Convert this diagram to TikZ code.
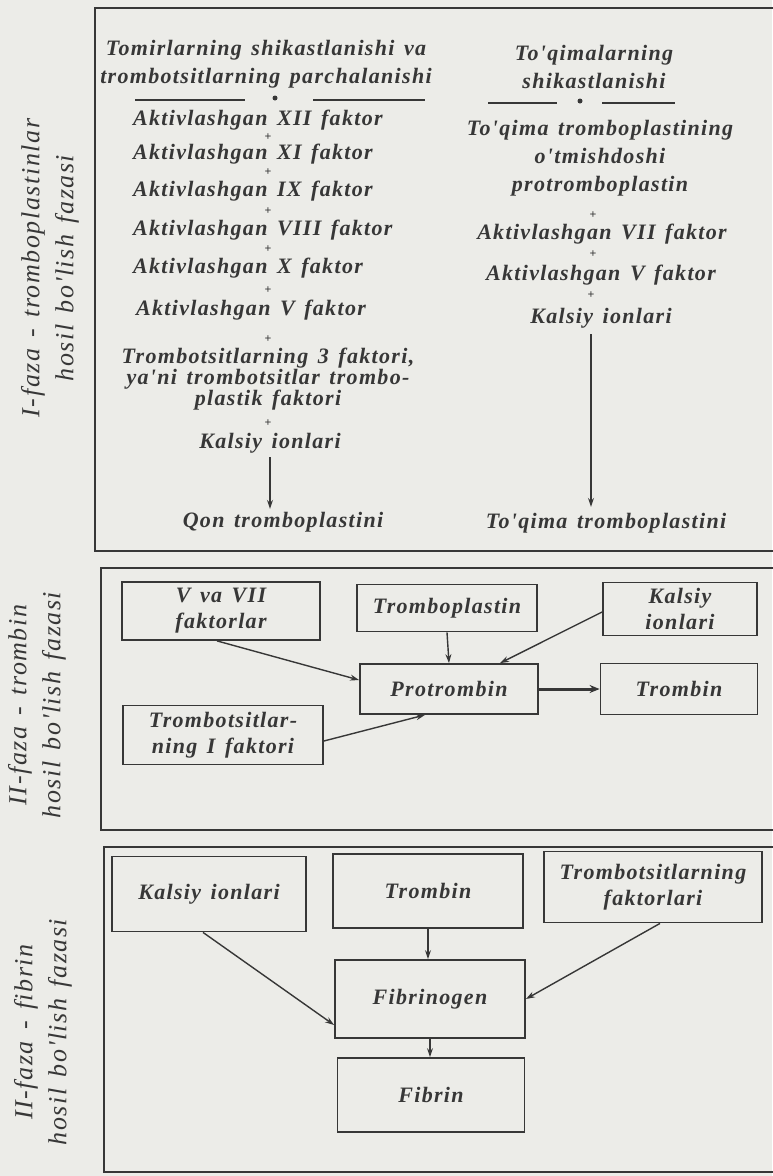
\documentclass[tikz,border=0pt]{standalone}
\usepackage{fontspec}
\usepackage{xcolor}
\usepackage{tikz}
\usetikzlibrary{arrows.meta, positioning, calc}
\newfontfamily\schemefont{Liberation Serif}[LetterSpace=6, WordSpace=1.4]
\definecolor{ink}{RGB}{55,55,55}
\definecolor{paper}{RGB}{236,236,232}
\tikzset{
  frame/.style={draw=ink, line width=2pt},
  fbox/.style={rectangle, draw=ink, line width=1.8pt, text=ink,
    align=center, inner sep=0pt,
    font=\schemefont\bfseries\itshape\fontsize{22}{26}\selectfont},
  lbl/.style={text=ink, align=center, inner sep=0pt,
    font=\schemefont\bfseries\itshape\fontsize{22}{28}\selectfont},
  plus/.style={text=ink, inner sep=0pt,
    font=\schemefont\bfseries\fontsize{12}{12}\selectfont},
  sidelbl/.style={text=ink, align=center, rotate=90,
    font=\schemefont\itshape\fontsize{26}{34}\selectfont},
  arrow/.style={-{Stealth[length=9pt,width=6pt]}, line width=1.4pt, draw=ink},
  thickarrow/.style={-{Stealth[length=10pt,width=8pt]}, line width=3pt, draw=ink},
  bar/.style={draw=ink, line width=1.4pt}
}

\begin{document}
\begin{tikzpicture}[x=1pt, y=-1pt]
  \fill[paper] (0,0) rectangle (772,1176);
  \useasboundingbox (0,0) rectangle (772,1176);

  % I-faza
  \draw[frame] (790,8) -- (95,8) -- (95,551) -- (790,551);
  \node[sidelbl] (side1) at (50,268) {I-faza - tromboplastinlar\\hosil bo'lish fazasi};

  % Left column: blood
  \node[lbl] (tomir) at (266,64) {Tomirlarning shikastlanishi va\\trombotsitlarning parchalanishi};
  \draw[bar] (135,100) -- (245,100);
  \fill[ink] (275,98) circle (2.5pt);
  \draw[bar] (313,100) -- (425,100);
  \node[lbl, anchor=west] (akt12) at (133,120) {Aktivlashgan XII faktor};
  \node[plus] (pa1) at (268,137) {+};
  \node[lbl, anchor=west] (akt11) at (133,154) {Aktivlashgan XI faktor};
  \node[plus] (pa2) at (268,172) {+};
  \node[lbl, anchor=west] (akt9) at (133,191) {Aktivlashgan IX faktor};
  \node[plus] (pa3) at (268,211) {+};
  \node[lbl, anchor=west] (akt8) at (133,230) {Aktivlashgan VIII faktor};
  \node[plus] (pa4) at (268,249) {+};
  \node[lbl, anchor=west] (akt10) at (133,268) {Aktivlashgan X faktor};
  \node[plus] (pa5) at (268,290) {+};
  \node[lbl, anchor=west] (akt5) at (136,310) {Aktivlashgan V faktor};
  \node[plus] (pa6) at (268,339) {+};
  \node[lbl, font=\schemefont\bfseries\itshape\fontsize{22}{21}\selectfont] (trmb3) at (268,379)
    {Trombotsitlarning 3 faktori,\\ya'ni trombotsitlar trombo-\\plastik faktori};
  \node[plus] (pa7) at (268,423) {+};
  \node[lbl] (kalL) at (270,443) {Kalsiy ionlari};
  \node[lbl] (qon) at (283,522) {Qon tromboplastini};
  \draw[arrow] ([yshift=-4pt]kalL.south) -- ([yshift=3pt]kalL.south |- qon.north);

  % Right column: tissue
  \node[lbl] (toqm) at (594,67) {To'qimalarning\\shikastlanishi};
  \draw[bar] (488,103) -- (557,103);
  \fill[ink] (580,101) circle (2.5pt);
  \draw[bar] (602,103) -- (675,103);
  \node[lbl] (toqtr) at (600,158) {To'qima tromboplastining\\o'tmishdoshi\\protromboplastin};
  \node[plus] (pb1) at (593,215) {+};
  \node[lbl] (akt7r) at (602,234) {Aktivlashgan VII faktor};
  \node[plus] (pb2) at (593,254) {+};
  \node[lbl] (akt5r) at (601,275) {Aktivlashgan V faktor};
  \node[plus] (pb3) at (591,295) {+};
  \node[lbl] (kalR) at (601,318) {Kalsiy ionlari};
  \node[lbl] (toqpl) at (606,523) {To'qima tromboplastini};
  \draw[arrow] ([shift={(-10pt,-6pt)}]kalR.south) -- ([shift={(-10pt,6pt)}]kalR.south |- toqpl.north);

  % II-faza
  \draw[frame] (790,568) -- (101,568) -- (101,830) -- (790,830);
  \node[sidelbl] (side2) at (37,705) {II-faza - trombin\\hosil bo'lish fazasi};
  \node[fbox, minimum width=198pt, minimum height=58pt] (vvii) at (221,611) {V va VII\\faktorlar};
  \node[fbox, minimum width=180pt, minimum height=47pt] (trplast) at (447,608) {Tromboplastin};
  \node[fbox, minimum width=154pt, minimum height=53pt] (kal2) at (680,609) {Kalsiy\\ionlari};
  \node[fbox, minimum width=178pt, minimum height=50pt] (protr) at (449,689) {Protrombin};
  \node[fbox, minimum width=157pt, minimum height=51pt] (tromb2) at (679,689) {Trombin};
  \node[fbox, minimum width=200pt, minimum height=59pt] (trI) at (223,735) {Trombotsitlar-\\ning I faktori};
  \draw[arrow] ([xshift=-4pt]vvii.south) -- ([yshift=9pt]protr.west);
  \draw[arrow] (trplast.south) -- (protr.north);
  \draw[arrow] ([yshift=-3pt]kal2.west) -- ([xshift=51pt]protr.north);
  \draw[arrow] ([yshift=-6pt]trI.east) -- ([xshift=-24pt]protr.south);
  \draw[thickarrow] (protr.east) -- (tromb2.west);

  % III-faza
  \draw[frame] (790,847) -- (104,847) -- (104,1172) -- (790,1172);
  \node[sidelbl] (side3) at (43,1032) {II-faza - fibrin\\hosil bo'lish fazasi};
  \node[fbox, minimum width=194pt, minimum height=75pt] (kal3) at (209,894) {Kalsiy ionlari};
  \node[fbox, minimum width=190pt, minimum height=74pt] (tromb3) at (428,891) {Trombin};
  \node[fbox, minimum width=218pt, minimum height=71pt] (trfak) at (653,887) {Trombotsitlarning\\faktorlari};
  \node[fbox, minimum width=190pt, minimum height=78pt] (fibgen) at (430,999) {Fibrinogen};
  \node[fbox, minimum width=187pt, minimum height=74pt] (fibrin) at (431,1095) {Fibrin};
  \draw[arrow] ([xshift=-6pt]kal3.south) -- ([yshift=-26pt]fibgen.west);
  \draw[arrow] (tromb3.south) -- (tromb3.south |- fibgen.north);
  \draw[arrow] ([xshift=7pt]trfak.south) -- (fibgen.east);
  \draw[arrow, line width=2.2pt] (fibgen.south) -- (fibgen.south |- fibrin.north);
\end{tikzpicture}
\end{document}
